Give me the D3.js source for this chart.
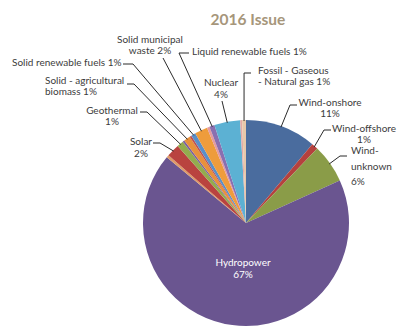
<!DOCTYPE html>
<html>
<head>
<meta charset="utf-8">
<script src="https://cdn.jsdelivr.net/npm/d3@7/dist/d3.min.js"></script>
<style>
  html, body { margin: 0; padding: 0; background: #ffffff; }
  svg { display: block; }
  text { font-family: Lato, "Open Sans", sans-serif; }
</style>
</head>
<body>
<svg id="chart" width="418" height="333"></svg>
<script>
// Electricity generation shares, 2016 issue (clockwise from 12 o'clock)
const categories = [
  "Wind-onshore", "Wind-offshore", "Wind-unknown", "Hydropower",
  "Minor source A", "Solar", "Geothermal", "Minor source B",
  "Solid - agricultural biomass", "Minor source C", "Solid renewable fuels",
  "Solid municipal waste", "Minor source D", "Liquid renewable fuels",
  "Nuclear", "Minor source E", "Fossil - Gaseous - Natural gas"
];
const shares = [11, 1, 6, 67, 0.4, 2, 1, 0.3, 1, 0.3, 0.7, 2, 0.4, 0.8, 4, 0.3, 0.6];
const labelPercents = [11, 1, 6, 67, null, 2, 1, null, 1, null, 1, 2, null, 1, 4, null, 1];
const sliceColors = [
  "#4a6c9e", "#b5413e", "#8a9c48", "#6a5590",
  "#de9a68", "#b9433f", "#93ac4e", "#7b60a0",
  "#e8913b", "#c0504d", "#5a8fc8",
  "#ee9c3c", "#e49aa0", "#8a6fb0",
  "#5cb1d3", "#e3aaa6", "#e6c8aa"
];
const titleText = "2016 Issue";

const svg = d3.select("#chart");
const cx = 246, cy = 223, radius = 103;

svg.append("text")
  .attr("x", 248).attr("y", 25)
  .attr("text-anchor", "middle")
  .attr("font-size", 15.5).attr("font-weight", 700)
  .attr("fill", "#a6967b")
  .text(titleText);

const pie = d3.pie().sort(null).value(d => d.value);
const rows = categories.map((c, i) => ({ name: c, value: shares[i], pct: labelPercents[i], color: sliceColors[i] }));
const arcs = pie(rows);
const arc = d3.arc().innerRadius(0).outerRadius(radius);

const g = svg.append("g").attr("transform", `translate(${cx},${cy})`);
g.selectAll("path.slice").data(arcs).enter().append("path")
  .attr("class", "slice")
  .attr("d", arc)
  .attr("fill", d => d.data.color);

// label placement for the outside labels
const layout = {
  "Wind-onshore": { lines: ["Wind-onshore", "{p}"], x: 330, y: 106, lh: 10.5, anchor: "middle", elbow: [290, 105], end: [297, 105] },
  "Wind-offshore": { lines: ["Wind-offshore", "{p}"], x: 364, y: 132, lh: 10.5, anchor: "middle", elbow: [324, 130], end: [331, 130] },
  "Wind-unknown": { lines: ["Wind-", "unknown", "{p}"], x: 351, y: 154, lh: 15.5, anchor: "start", elbow: [340, 156], end: [347, 156] },
  "Solar": { lines: ["Solar", "{p}"], x: 141, y: 145, lh: 11.5, anchor: "middle", elbow: [160, 143], end: [153, 143] },
  "Geothermal": { lines: ["Geothermal", "{p}"], x: 112, y: 114, lh: 11, anchor: "middle", elbow: [147, 112], end: [140, 112] },
  "Solid - agricultural biomass": { lines: ["Solid - agricultural", "biomass {p}"], x: 45, y: 84, lh: 11, anchor: "start", elbow: [134, 84], end: [127, 84] },
  "Solid renewable fuels": { lines: ["Solid renewable fuels {p}"], x: 12, y: 66, lh: 11, anchor: "start", elbow: [133, 64], end: [123, 64] },
  "Solid municipal waste": { lines: ["Solid municipal", "waste {p}"], x: 150, y: 43, lh: 11, anchor: "middle", elbow: [163, 58], end: null },
  "Liquid renewable fuels": { lines: ["Liquid renewable fuels {p}"], x: 192, y: 55, lh: 11, anchor: "start", elbow: [179, 53], end: [189, 53] },
  "Nuclear": { lines: ["Nuclear", "{p}"], x: 221, y: 86, lh: 12, anchor: "middle", elbow: [222, 101], end: null },
  "Fossil - Gaseous - Natural gas": { lines: ["Fossil - Gaseous", "- Natural gas {p}"], x: 258, y: 74, lh: 11, anchor: "start", elbow: "vertical", elbowY: 73, end: [251, 73] }
};

const leaders = svg.append("g").attr("fill", "none").attr("stroke", "#2b2b2b").attr("stroke-width", 1);
const labels = svg.append("g").attr("font-size", 10).attr("fill", "#3c3c3c");

arcs.forEach(a => {
  const spec = layout[a.data.name];
  if (!spec) return;
  const mid = (a.startAngle + a.endAngle) / 2;
  const rim = [cx + Math.sin(mid) * (radius - 1), cy - Math.cos(mid) * (radius - 1)];
  const elbow = spec.elbow === "vertical" ? [rim[0], spec.elbowY] : spec.elbow;
  const pts = [rim, elbow];
  if (spec.end) pts.push(spec.end);
  leaders.append("path").attr("d", d3.line()(pts));

  const pctText = d3.format(".0f")(a.data.pct) + "%";
  const t = labels.append("text").attr("text-anchor", spec.anchor);
  spec.lines.forEach((ln, i) => {
    t.append("tspan")
      .attr("x", spec.x)
      .attr("y", spec.y + i * spec.lh)
      .text(ln.replace("{p}", pctText));
  });
});

// value label inside the largest slice
const hydro = arcs.find(a => a.data.name === "Hydropower");
const ht = svg.append("text")
  .attr("text-anchor", "middle").attr("font-size", 10).attr("fill", "#ffffff");
ht.append("tspan").attr("x", 243).attr("y", 266).text(hydro.data.name);
ht.append("tspan").attr("x", 243).attr("y", 278).text(d3.format(".0f")(hydro.data.pct) + "%");
</script>
</body>
</html>
